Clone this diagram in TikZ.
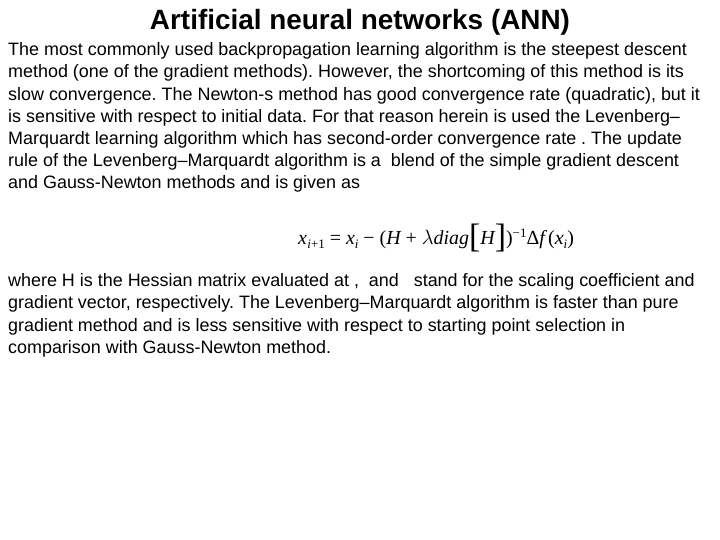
\documentclass[tikz,border=0pt]{standalone}
\usepackage{fontspec}
\setmainfont{Liberation Sans}
\newfontfamily\tms{Liberation Serif}
\frenchspacing
\begin{document}
\begin{tikzpicture}[x=1bp,y=-1bp,
  line/.style={anchor=base west,inner sep=0pt,font=\fontsize{18}{20}\selectfont}]
\useasboundingbox (0,0) rectangle (720,540);
\node[anchor=base,inner sep=0pt,font=\bfseries\fontsize{28}{30}\selectfont] (title) at (360,30) {Artificial neural networks (ANN)};
\node[line] (l1) at (8,56) {The most commonly used backpropagation learning algorithm is the steepest descent};
\node[line] (l2) at (8,78) {method (one of the gradient methods). However, the shortcoming of this method is its};
\node[line] (l3) at (8,100.5) {slow convergence. The Newton-s method has good convergence rate (quadratic), but it};
\node[line] (l4) at (8,122.5) {is sensitive with respect to initial data. For that reason herein is used the Levenberg–};
\node[line] (l5) at (8,144.5) {Marquardt learning algorithm which has second-order convergence rate . The update};
\node[line] (l6) at (8,167) {rule of the Levenberg–Marquardt algorithm is a\ \ blend of the simple gradient descent};
\node[line] (l7) at (8,189) {and Gauss-Newton methods and is given as};
\node[anchor=base,inner sep=0pt,font=\tms\fontsize{20}{24}\selectfont] (eq) at (436,245)
  {\itshape x\kern0.5pt\raisebox{-4pt}{\fontsize{13}{14}\selectfont i\upshape+1} \upshape= \itshape x\raisebox{-4pt}{\fontsize{13}{14}\selectfont i} \upshape− (\itshape H \upshape+ $\lambda$\itshape diag\raisebox{-3pt}{\fontsize{34}{34}\selectfont\upshape[}H\raisebox{-3pt}{\fontsize{34}{34}\selectfont\upshape]}\upshape)\raisebox{8pt}{\fontsize{13}{14}\selectfont −1}\upshape Δ\itshape f\upshape\,(\itshape x\raisebox{-4pt}{\fontsize{13}{14}\selectfont i}\upshape)};
\node[line] (m1) at (8,286.5) {where H is the Hessian matrix evaluated at ,\ \ and\ \ \ stand for the scaling coefficient and};
\node[line] (m2) at (8,308.5) {gradient vector, respectively. The Levenberg–Marquardt algorithm is faster than pure};
\node[line] (m3) at (8,331) {gradient method and is less sensitive with respect to starting point selection in};
\node[line] (m4) at (8,353) {comparison with Gauss-Newton method.};
\end{tikzpicture}
\end{document}
